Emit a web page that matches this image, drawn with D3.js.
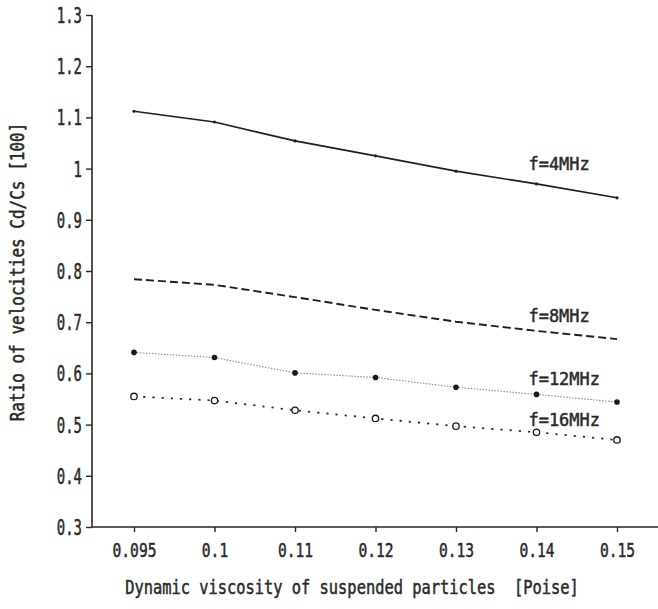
<!DOCTYPE html>
<html>
<head>
<meta charset="utf-8">
<script src="https://cdn.jsdelivr.net/npm/d3@7"></script>
<style>
  html, body { margin: 0; padding: 0; background: #fff; }
  svg { display: block; }
  text { font-family: "DejaVu Sans Mono", monospace; fill: #2a2a2a; stroke: #2a2a2a; stroke-width: 0.5px; }
</style>
</head>
<body>
<svg id="chart" width="658" height="609"></svg>
<script>
// Dynamic viscosity of suspended particles [Poise]
const viscosity = ["0.095", "0.1", "0.11", "0.12", "0.13", "0.14", "0.15"];
const yTicks = [0.3, 0.4, 0.5, 0.6, 0.7, 0.8, 0.9, 1.0, 1.1, 1.2, 1.3];

// Ratio of velocities Cd/Cs for each frequency
const f4MHz  = [1.112, 1.091, 1.054, 1.025, 0.995, 0.970, 0.943];
const f8MHz  = [0.784, 0.773, 0.749, 0.724, 0.701, 0.683, 0.667];
const f12MHz = [0.641, 0.631, 0.601, 0.592, 0.573, 0.559, 0.544];
const f16MHz = [0.555, 0.547, 0.528, 0.512, 0.497, 0.485, 0.470];
const seriesNames = ["f=4MHz", "f=8MHz", "f=12MHz", "f=16MHz"];

const svg = d3.select("#chart");
const ink = "#262626";

const x = d3.scalePoint().domain(viscosity).range([134, 617]);
const y = d3.scaleLinear().domain([0.3, 1.3]).range([527, 15]);
const x0 = 92, xEnd = 658;

// squeeze the plotter-style lettering
function narrow(sel, perChar) {
  sel.each(function() {
    const s = d3.select(this).text();
    d3.select(this).attr("textLength", s.length * perChar).attr("lengthAdjust", "spacingAndGlyphs");
  });
}

// y axis
const yAxis = svg.append("g").attr("transform", `translate(${x0},0)`)
  .call(d3.axisLeft(y).tickValues(yTicks).tickSize(6).tickPadding(4)
    .tickFormat(d => String(+d.toFixed(1))));
yAxis.attr("font-size", null).attr("font-family", null);
yAxis.select(".domain").attr("stroke", ink).attr("stroke-width", 1.6).attr("d", `M0,${y(1.3)}V${y(0.3)}`);
yAxis.selectAll(".tick line").attr("stroke", ink).attr("stroke-width", 1.4);
yAxis.selectAll(".tick text").attr("font-size", 21).attr("fill", ink)
  .attr("dy", "0.36em").call(narrow, 8.4);

// x axis
const xAxis = svg.append("g").attr("transform", `translate(0,${y(0.3)})`)
  .call(d3.axisBottom(x).tickSize(5).tickPadding(11));
xAxis.attr("font-size", null).attr("font-family", null);
xAxis.select(".domain").attr("stroke", ink).attr("stroke-width", 1.6).attr("d", `M${x0},0H${xEnd}`);
xAxis.selectAll(".tick line").attr("stroke", ink).attr("stroke-width", 1.4);
xAxis.selectAll(".tick text").attr("font-size", 20).attr("fill", ink).call(narrow, 8.8);

// axis titles (horizontally condensed with a scale transform)
svg.append("text")
  .attr("transform", "translate(352,594) scale(0.81,1)")
  .attr("text-anchor", "middle")
  .attr("font-size", 19).attr("fill", ink)
  .text("Dynamic viscosity of suspended particles\u00a0\u00a0[Poise]");

svg.append("text")
  .attr("transform", "translate(24,272) rotate(-90) scale(0.8,1)")
  .attr("text-anchor", "middle")
  .attr("font-size", 20).attr("fill", ink)
  .text("Ratio of velocities Cd/Cs [100]");

const line = d3.line().x((d, i) => x(viscosity[i])).y(d => y(d));

// f = 4 MHz : solid
svg.append("path").datum(f4MHz).attr("d", line)
  .attr("fill", "none").attr("stroke", "#1e1e1e").attr("stroke-width", 1.7);
svg.selectAll(".m4").data(f4MHz).join("circle")
  .attr("cx", (d, i) => x(viscosity[i])).attr("cy", d => y(d)).attr("r", 1.6).attr("fill", "#1e1e1e");

// f = 8 MHz : dashed
svg.append("path").datum(f8MHz).attr("d", line)
  .attr("fill", "none").attr("stroke", "#1e1e1e").attr("stroke-width", 1.9)
  .attr("stroke-dasharray", "8,4");

// f = 12 MHz : fine dotted line with filled markers
svg.append("path").datum(f12MHz).attr("d", line)
  .attr("fill", "none").attr("stroke", "#8a8a8a").attr("stroke-width", 1.1)
  .attr("stroke-dasharray", "1.5,1.5");
svg.selectAll(".m12").data(f12MHz).join("circle")
  .attr("cx", (d, i) => x(viscosity[i])).attr("cy", d => y(d)).attr("r", 2.8).attr("fill", "#1a1a1a");

// f = 16 MHz : dotted line with open circles
svg.append("path").datum(f16MHz).attr("d", line)
  .attr("fill", "none").attr("stroke", "#2a2a2a").attr("stroke-width", 1.8)
  .attr("stroke-dasharray", "2.2,7");
svg.selectAll(".m16").data(f16MHz).join("circle")
  .attr("cx", (d, i) => x(viscosity[i])).attr("cy", d => y(d)).attr("r", 3.2)
  .attr("fill", "#fff").attr("stroke", "#1a1a1a").attr("stroke-width", 1.3);

// series labels
const labelBase = [170, 322, 385, 426];
svg.selectAll(".lbl").data(seriesNames).join("text")
  .attr("x", x("0.14") - 8).attr("y", (d, i) => labelBase[i])
  .attr("font-size", 18).attr("fill", ink)
  .text(d => d)
  .call(narrow, 10.2);
</script>
</body>
</html>
